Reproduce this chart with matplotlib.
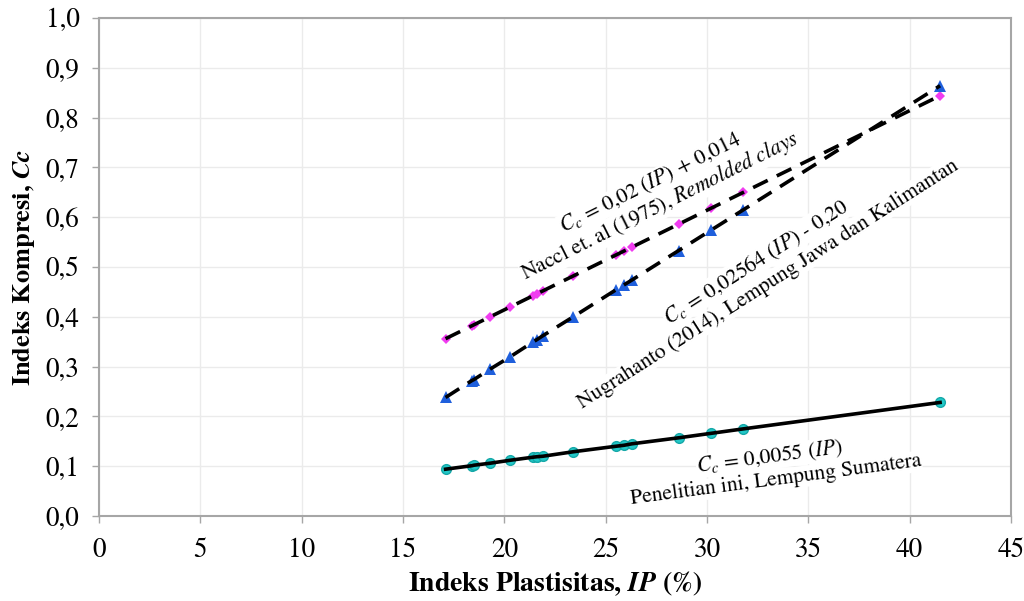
import numpy as np
import matplotlib
matplotlib.use("Agg")
import matplotlib.pyplot as plt
from matplotlib.ticker import FuncFormatter, MultipleLocator

plt.rcParams['font.family'] = ['STIXGeneral', 'DejaVu Serif']
plt.rcParams['mathtext.fontset'] = 'stix'

# Indeks Plastisitas (%) of the samples
ip = [17.1, 18.4, 18.5, 19.3, 20.3, 21.4, 21.6, 21.9, 23.4, 25.5, 25.9, 26.3,
      28.6, 30.2, 31.8, 41.5]
# Cc, Penelitian ini (Lempung Sumatera)
cc_sumatera = [0.094, 0.101, 0.102, 0.106, 0.112, 0.118, 0.119, 0.120, 0.129,
               0.140, 0.142, 0.145, 0.157, 0.166, 0.175, 0.228]
# Cc, Nugrahanto (2014)
cc_nugrahanto = [0.238, 0.272, 0.274, 0.295, 0.320, 0.349, 0.354, 0.362, 0.400,
                 0.454, 0.464, 0.474, 0.533, 0.574, 0.615, 0.864]
# Cc, Naccl et. al (1975)
cc_naccl = [0.356, 0.382, 0.384, 0.400, 0.420, 0.442, 0.446, 0.452, 0.482,
            0.524, 0.532, 0.540, 0.586, 0.618, 0.650, 0.844]

fig = plt.figure(figsize=(10.24, 6.01), dpi=100)
ax = fig.add_axes([99 / 1024, 1 - 516 / 601, 912 / 1024, 498 / 601])

# markers first, trend lines on top
ax.plot(ip, cc_naccl, 'D', color='#f03cf0', markersize=5.5, markeredgewidth=0, zorder=3)
ax.plot(ip, cc_nugrahanto, '^', color='#1f5fdc', markersize=8, markeredgewidth=0, zorder=3)
ax.plot(ip, cc_sumatera, 'o', color='#22c8c8', markeredgecolor='#15a8a8',
        markersize=7, markeredgewidth=1, zorder=3)

ax.plot(ip, cc_naccl, color='black', lw=2.6, dashes=(4.5, 2.8), zorder=4)
ax.plot(ip, cc_nugrahanto, color='black', lw=2.6, dashes=(4.5, 2.8), zorder=4)
ax.plot(ip, cc_sumatera, color='black', lw=2.6, zorder=4)

ax.set_xlim(0, 45)
ax.set_ylim(0, 1.0)
ax.xaxis.set_major_locator(MultipleLocator(5))
ax.yaxis.set_major_locator(MultipleLocator(0.1))
ax.yaxis.set_major_formatter(FuncFormatter(lambda v, p: f"{v:.1f}".replace('.', ',')))
ax.grid(True, color='#ebebeb', lw=1)
ax.set_axisbelow(True)
for s in ax.spines.values():
    s.set_color('#a6a6a6')
    s.set_linewidth(1.5)
ax.tick_params(colors='#a6a6a6', labelcolor='black', labelsize=19.5, length=5, width=1)
ax.tick_params(axis='x', pad=11)
ax.tick_params(axis='y', pad=9)

ax.set_xlabel(r'Indeks Plastisitas, $\mathbfit{IP}$ (%)', fontsize=20,
              fontweight='bold', labelpad=4)
ax.set_ylabel(r'Indeks Kompresi, $\mathbfit{Cc}$', fontsize=19,
              fontweight='bold', labelpad=6)

box = dict(facecolor='white', edgecolor='none', pad=0.5)
kw = dict(ha='center', va='center', rotation_mode='anchor', fontsize=15.5, zorder=5)
ax.text(27.2, 0.668, r'$C_c$ = 0,02 ($\mathit{IP}$) + 0,014', rotation=26.5, bbox=box, **kw)
ax.text(27.7, 0.622, r'Naccl et. al (1975), $\mathit{Remolded\ clays}$', rotation=26.5, bbox=box, **kw)
ax.text(32.4, 0.510, r'$C_c$ = 0,02564 ($\mathit{IP}$) - 0,20', rotation=32.5, bbox=box, **kw)
ax.text(33.0, 0.466, 'Nugrahanto (2014), Lempung Jawa dan Kalimantan', rotation=32.5, bbox=box, **kw)
ax.text(33.1, 0.118, r'$C_c$ = 0,0055 ($\mathit{IP}$)', rotation=7.5, bbox=box, **kw)
ax.text(33.4, 0.072, 'Penelitian ini, Lempung Sumatera', rotation=7.5, bbox=box, **kw)

fig.savefig('out.png', dpi=100)
